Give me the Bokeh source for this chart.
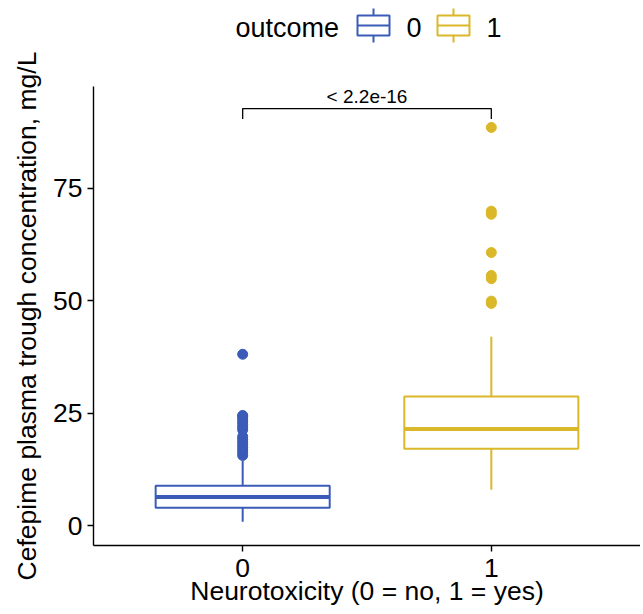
from bokeh.plotting import figure
from bokeh.layouts import column
from bokeh.models import Range1d, FixedTicker
from bokeh.core.properties import value
from bokeh.embed import file_html
from bokeh.resources import INLINE

# ---- data ----
groups = ["0", "1"]
group_pos = [1, 2]
colors = ["#3B5BB8", "#DBB82A"]
q1 = [4.0, 17.1]
median = [6.4, 21.5]
q3 = [8.9, 28.7]
whisker_low = [0.9, 8.0]
whisker_high = [14.4, 42.0]
outliers_0 = [15.6, 16.2, 16.8, 17.4, 18.0, 18.6, 19.2, 19.8, 21.3, 21.9, 22.5, 23.1, 23.7, 24.3, 24.5, 38.1]
outliers_1 = [49.4, 49.9, 54.9, 55.6, 60.7, 69.2, 69.9, 88.5]
p_label = "< 2.2e-16"
bracket_y = [90.4, 92.7, 92.7, 90.4]
y_ticks = [0, 25, 50, 75]

FONT = "Liberation Sans"
BOX_HALF = 0.35
W = 640
FRAME_LEFT = 93
LEG_H = 50

# ---- legend figure (coordinates in pixels of the legend strip) ----
leg = figure(width=W, height=LEG_H, x_range=Range1d(FRAME_LEFT, W), y_range=Range1d(LEG_H, 0),
             output_backend="svg", toolbar_location=None,
             min_border_left=FRAME_LEFT, min_border_right=0, min_border_top=0, min_border_bottom=0)
leg.axis.visible = False
leg.grid.visible = False
leg.outline_line_color = None
leg.text(x=[235], y=[27], text=["outcome"], text_font=value(FONT), text_font_size="27px",
         text_color="black", text_align="left", text_baseline="alphabetic")
key_left = [357, 437]
key_w = 32
for i, g in enumerate(groups):
    l = key_left[i]
    c = l + key_w / 2
    leg.quad(left=[l], right=[l + key_w], bottom=[35], top=[15], fill_color=None,
             line_color=colors[i], line_width=2)
    leg.segment(x0=[l], x1=[l + key_w], y0=[25], y1=[25], line_color=colors[i], line_width=2)
    leg.segment(x0=[c, c], x1=[c, c], y0=[8, 35], y1=[15, 42], line_color=colors[i], line_width=2)
    leg.text(x=[l + key_w + 17], y=[27], text=[g], text_font=value(FONT), text_font_size="27px",
             text_color="black", text_align="left", text_baseline="alphabetic")

# ---- main figure ----
p = figure(width=W, height=562, x_range=Range1d(0.4, 2.6), y_range=Range1d(-4.4, 97.6),
           output_backend="svg", toolbar_location=None,
           min_border_left=FRAME_LEFT, min_border_right=0, min_border_top=36, min_border_bottom=67)
p.grid.visible = False
p.outline_line_color = None

for i in range(2):
    x = group_pos[i]
    c = colors[i]
    p.segment(x0=[x, x], x1=[x, x], y0=[q3[i], q1[i]], y1=[whisker_high[i], whisker_low[i]],
              line_color=c, line_width=2)
    p.quad(left=[x - BOX_HALF], right=[x + BOX_HALF], bottom=[q1[i]], top=[q3[i]],
           fill_color="white", line_color=c, line_width=2)
    p.segment(x0=[x - BOX_HALF], x1=[x + BOX_HALF], y0=[median[i]], y1=[median[i]],
              line_color=c, line_width=4)

p.scatter(x=[group_pos[0]] * len(outliers_0), y=outliers_0, size=10,
          fill_color=colors[0], line_color=colors[0])
p.scatter(x=[group_pos[1]] * len(outliers_1), y=outliers_1, size=10,
          fill_color=colors[1], line_color=colors[1])

p.line(x=[group_pos[0], group_pos[0], group_pos[1], group_pos[1]], y=bracket_y,
       line_color="black", line_width=1.3)
p.text(x=[(group_pos[0] + group_pos[1]) / 2], y=[bracket_y[1] + 0.4], text=[p_label],
       text_font=value(FONT), text_font_size="19px", text_color="black",
       text_align="center", text_baseline="bottom")

for ax in (p.xaxis[0], p.yaxis[0]):
    ax.axis_line_color = "black"
    ax.axis_line_width = 1.4
    ax.major_tick_line_color = "black"
    ax.major_tick_line_width = 1.4
    ax.major_tick_out = 6
    ax.major_tick_in = 0
    ax.minor_tick_line_color = None
    ax.major_label_text_font = FONT
    ax.major_label_text_font_size = "26.5px"
    ax.major_label_text_color = "black"
    ax.axis_label_text_font = FONT
    ax.axis_label_text_font_size = "26.5px"
    ax.axis_label_text_font_style = "normal"
    ax.axis_label_text_color = "black"

p.yaxis.ticker = FixedTicker(ticks=y_ticks)
p.yaxis.major_label_standoff = 5
p.yaxis.axis_label = "Cefepime plasma trough concentration, mg/L"
p.yaxis.axis_label_standoff = 8

p.xaxis.ticker = FixedTicker(ticks=group_pos)
p.xaxis.major_label_overrides = {group_pos[i]: groups[i] for i in range(2)}
p.xaxis.major_label_standoff = 7
p.xaxis.axis_label = "Neurotoxicity (0 = no, 1 = yes)"
p.xaxis.axis_label_standoff = -4

layout = column(leg, p, spacing=0)
open("out.html", "w").write(file_html(layout, INLINE))
